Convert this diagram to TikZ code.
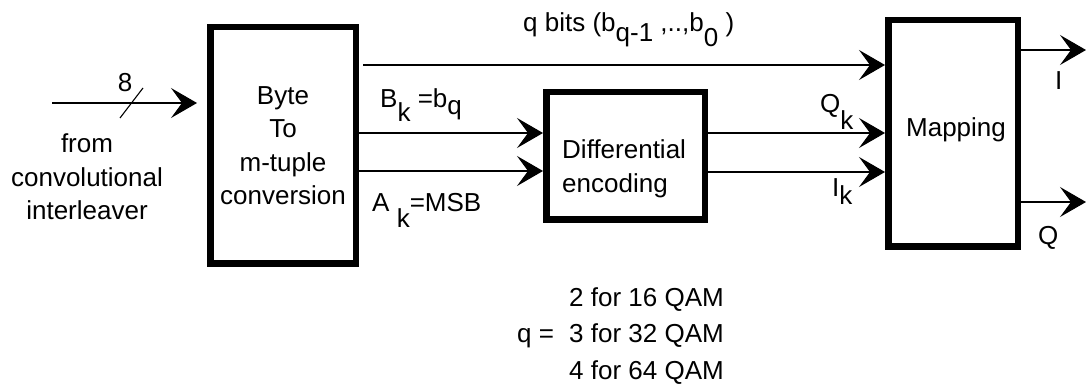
\documentclass[tikz,border=0pt]{standalone}
\usepackage{fontspec}
\setmainfont{Liberation Sans}
\usetikzlibrary{arrows.meta, positioning, calc}

\newcommand{\dn}[2]{\raisebox{-#1pt}{#2}}

\begin{document}
\begin{tikzpicture}[
        x=1pt, y=-1pt,
        every node/.style={font=\fontsize{26pt}{33.5pt}\selectfont, inner sep=0pt},
        block/.style={rectangle, draw, line width=6.5pt, align=center},
        arrow/.style={-{Stealth[length=26pt, width=30pt, inset=11pt]}, line width=1.1pt},
        wire/.style={line width=1.1pt},
    ]
        \useasboundingbox (0,0) rectangle (1086,387);

        % blocks
        \node[block, minimum width=145.5pt, minimum height=236.5pt] (byte) at (283,145.5)
            {Byte\\To\\m-tuple\\conversion};
        \node[block, minimum width=158.5pt, minimum height=127.5pt] (diff) at (625.5,156) {};
        \node[block, minimum width=129.5pt, minimum height=226.5pt] (map) at (953,133.5) {};

        \node[align=left, anchor=west] (difftxt) at (562,169) {Differential\\encoding};
        \node[anchor=base] (maptxt) at (956,137) {Mapping};

        % input
        \coordinate (src) at (52,103);
        \draw[arrow, shorten >=10pt] (src) -- (src -| byte.west);
        \draw[wire] (143,88) -- (120,118);
        \node[anchor=base] (eight) at (125,91.5) {8};
        \node[align=center] (from) at (87,177) {from\\convolutional\\interleaver};

        % byte -> mapping, byte -> differential
        \draw[arrow] ([xshift=4pt]byte.east |- 0,65) -- (map.west |- 0,65);
        \draw[arrow] (byte.east |- 0,133) -- (diff.west |- 0,133);
        \draw[arrow] (byte.east |- 0,171) -- (diff.west |- 0,171);

        % differential -> mapping
        \draw[arrow] (diff.east |- 0,133) -- (map.west |- 0,133);
        \draw[arrow] (diff.east |- 0,172) -- (map.west |- 0,172);

        % outputs
        \coordinate (outI) at (1086,50);
        \coordinate (outQ) at (1086,202);
        \draw[arrow] (map.east |- outI) -- (outI);
        \draw[arrow] (map.east |- outQ) -- (outQ);

        % labels
        \node[anchor=base west] (qbits) at (523,32) {q bits (b\dn{10}{q-1} ,..,b\dn{15}{0} )};
        \node[anchor=base west] (bk) at (380,108) {B\dn{14}{k} =b\dn{7}{q}};
        \node[anchor=base west] (ak) at (372,212) {A \dn{16}{k}=MSB};
        \node[anchor=base west] (qk) at (820,113) {Q\dn{17}{k}};
        \node[anchor=base west] (ik) at (832,197) {I\dn{8}{k}};
        \node[anchor=base west] (il) at (1055,90) {I};
        \node[anchor=base west] (ql) at (1038,245) {Q};

        % q values
        \node[anchor=base west] (q16) at (569,306) {2 for 16 QAM};
        \node[anchor=base west] (q32) at (569,342) {3 for 32 QAM};
        \node[anchor=base west] (qeq) at (517,342) {q =};
        \node[anchor=base west] (q64) at (569,379) {4 for 64 QAM};
    \end{tikzpicture}
\end{document}
